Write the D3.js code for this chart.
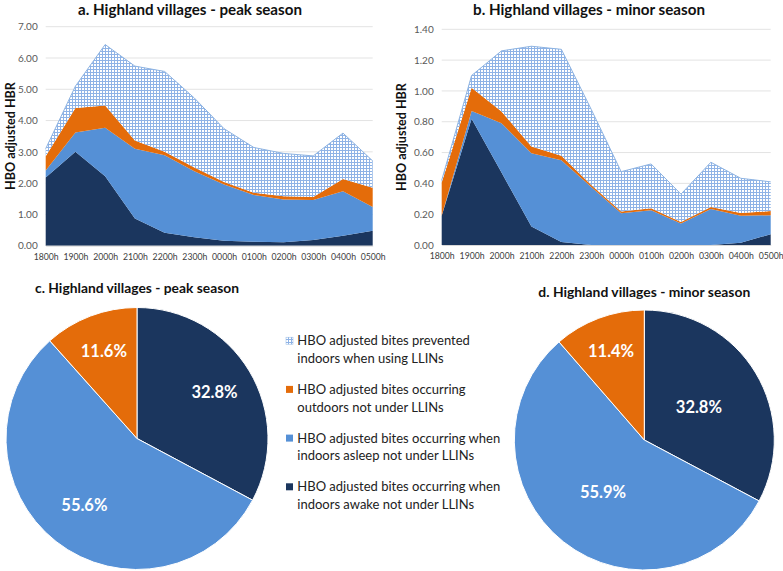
<!DOCTYPE html>
<html><head><meta charset="utf-8">
<script src="https://cdn.jsdelivr.net/npm/d3@7/dist/d3.min.js"></script>
<style>
body{margin:0;background:#fff}
svg{display:block}
text{font-family:Lato,"Open Sans",sans-serif}
</style>
</head><body>
<svg id="chart" width="783" height="571"></svg>
<script>
// ---------------- data ----------------
const hours = ["1800h","1900h","2000h","2100h","2200h","2300h","0000h","0100h","0200h","0300h","0400h","0500h"];
const seriesKeys = ["awake","asleep","outdoors","prevented"];
const seriesNames = [
  ["HBO adjusted bites prevented","indoors when using LLINs"],
  ["HBO adjusted bites occurring","outdoors not under LLINs"],
  ["HBO adjusted bites occurring when","indoors asleep not under LLINs"],
  ["HBO adjusted bites occurring when","indoors awake not under LLINs"]
];
// peak season (panel a)
const peakAwake     = [2.18,3.00,2.22,0.87,0.41,0.27,0.16,0.13,0.11,0.18,0.32,0.48];
const peakAsleep    = [0.22,0.62,1.55,2.23,2.48,2.11,1.80,1.49,1.37,1.28,1.42,0.76];
const peakOutdoors  = [0.46,0.78,0.71,0.26,0.11,0.12,0.08,0.07,0.10,0.10,0.39,0.61];
const peakPrevented = [0.24,0.70,1.95,2.38,2.57,2.22,1.70,1.45,1.37,1.31,1.47,0.86];
// minor season (panel b)
const minorAwake     = [0.19,0.82,0.47,0.12,0.02,0.00,0.00,0.00,0.00,0.00,0.015,0.07];
const minorAsleep    = [0.00,0.05,0.32,0.475,0.53,0.376,0.206,0.226,0.14,0.234,0.175,0.123];
const minorOutdoors  = [0.215,0.15,0.076,0.045,0.03,0.014,0.011,0.012,0.01,0.013,0.018,0.027];
const minorPrevented = [0.015,0.08,0.394,0.65,0.69,0.49,0.259,0.288,0.18,0.29,0.225,0.19];
const peakTicks  = [0,1,2,3,4,5,6,7];
const minorTicks = [0,0.2,0.4,0.6,0.8,1.0,1.2,1.4];
// pies (awake, asleep, outdoors) in %
const peakPie  = [32.8,55.6,11.6];
const minorPie = [32.8,55.9,11.4];

// ---------------- styles ----------------
const colors = {awake:"#1b365e", asleep:"#5590d6", outdoors:"#e46c0a", prevented:"url(#hatch)"};
const svg = d3.select("#chart");
const defs = svg.append("defs");
const pat = defs.append("pattern").attr("id","hatch").attr("patternUnits","userSpaceOnUse")
  .attr("width",3).attr("height",3);
pat.append("rect").attr("width",3).attr("height",3).attr("fill","#ffffff");
pat.append("rect").attr("x",0).attr("y",0).attr("width",3).attr("height",1).attr("fill","#8fb3e6");
pat.append("rect").attr("x",0).attr("y",0).attr("width",1).attr("height",3).attr("fill","#8fb3e6");

function fit(sel, target){
  const n = sel.node(); const fs = parseFloat(sel.attr("font-size"));
  const w = n.getComputedTextLength();
  if (w>0) sel.attr("font-size", (fs*target/w).toFixed(2));
  return sel;
}

function areaChart(o){
  const g = svg.append("g");
  const x = d3.scalePoint().domain(hours).range([o.x0,o.x1]);
  const y = d3.scaleLinear().domain([0,o.max]).range([o.yb,o.yt]);
  const rows = hours.map((h,i)=>({hour:h, awake:o.awake[i], asleep:o.asleep[i], outdoors:o.outdoors[i], prevented:o.prevented[i]}));
  const stack = d3.stack().keys(seriesKeys)(rows);
  // grid
  g.append("g").selectAll("line").data(o.ticks.slice(1)).join("line")
    .attr("x1",o.x0).attr("x2",o.x1).attr("y1",d=>y(d)).attr("y2",d=>y(d))
    .attr("stroke","#e3e3e3").attr("stroke-width",1);
  const area = d3.area().x(d=>x(d.data.hour)).y0(d=>y(d[0])).y1(d=>y(d[1]));
  g.append("g").selectAll("path").data(stack).join("path")
    .attr("d",area).attr("fill",d=>colors[d.key]);
  const top = stack[stack.length-1];
  g.append("path").attr("d", d3.line().x(d=>x(d.data.hour)).y(d=>y(d[1]))(top))
    .attr("fill","none").attr("stroke","#8db3e2").attr("stroke-width",1);
  // axes
  const ya = g.append("g").attr("transform",`translate(${o.x0},0)`)
    .call(d3.axisLeft(y).tickValues(o.ticks).tickFormat(d3.format(".2f")).tickSize(0).tickPadding(8));
  ya.select(".domain").remove();
  ya.selectAll("text").attr("font-family","Lato").attr("font-size",10).attr("fill","#595959");
  const xa = g.append("g").attr("transform",`translate(0,${o.yb})`)
    .call(d3.axisBottom(x).tickSize(0).tickPadding(8));
  xa.select(".domain").attr("stroke","#d9d9d9");
  xa.selectAll("text").attr("font-family","Lato").attr("font-size",8.7).attr("fill","#404040");
  // titles
  fit(g.append("text").attr("x",o.titleX).attr("y",15).attr("text-anchor","middle")
    .attr("font-weight","bold").attr("font-size",15).attr("fill","#111").text(o.title), o.titleW);
  fit(g.append("text").attr("transform",`translate(${o.ylabX},${o.ylabY}) rotate(-90)`)
    .attr("text-anchor","middle").attr("dy","0.35em")
    .attr("font-weight","bold").attr("font-size",13).attr("fill","#111").text("HBO adjusted HBR"), 108);
}

areaChart({x0:45.7,x1:372.7,yt:26.7,yb:245.7,max:7,ticks:peakTicks,
  awake:peakAwake,asleep:peakAsleep,outdoors:peakOutdoors,prevented:peakPrevented,
  title:"a. Highland villages - peak season",titleX:190,titleW:224,ylabX:10.5,ylabY:136});
areaChart({x0:441.7,x1:770.7,yt:29.3,yb:245,max:1.4,ticks:minorTicks,
  awake:minorAwake,asleep:minorAsleep,outdoors:minorOutdoors,prevented:minorPrevented,
  title:"b. Highland villages - minor season",titleX:589,titleW:232,ylabX:402,ylabY:137});

function pieChart(o){
  const g = svg.append("g").attr("transform",`translate(${o.cx},${o.cy})`);
  const arcs = d3.pie().sort(null).value(d=>d)(o.values);
  const keys = ["awake","asleep","outdoors"];
  g.selectAll("path").data(arcs).join("path")
    .attr("d",d3.arc().innerRadius(0).outerRadius(o.r))
    .attr("fill",(d,i)=>colors[keys[i]]).attr("stroke","#fff").attr("stroke-width",1);
  g.selectAll("text.lab").data(arcs).join("text").attr("class","lab")
    .attr("transform",(d,i)=>{const c=d3.arc().innerRadius(0).outerRadius(2*o.r*o.lr[i]).centroid(d);return `translate(${c})`;})
    .attr("text-anchor","middle").attr("dy","0.35em")
    .attr("font-weight","bold").attr("font-size",16.5).attr("fill","#fff")
    .text(d=>d.data.toFixed(1)+"%");
  fit(svg.append("text").attr("x",o.cx).attr("y",o.ty).attr("text-anchor","middle")
    .attr("font-weight","bold").attr("font-size",14).attr("fill","#111").text(o.title), o.tw);
}
pieChart({cx:137,cy:438.5,r:131,values:peakPie,lr:[0.69,0.65,0.71],
  title:"c. Highland villages - peak season",ty:293,tw:204});
pieChart({cx:644.3,cy:440,r:130,values:minorPie,lr:[0.49,0.51,0.73],
  title:"d. Highland villages - minor season",ty:297,tw:212});

// legend
const lg = svg.append("g");
const legFill = [colors.prevented, colors.outdoors, colors.asleep, colors.awake];
seriesNames.forEach((lines,i)=>{
  const y0 = 340.7 + i*48.7;
  lg.append("rect").attr("x",286).attr("y",y0-3.5).attr("width",7).attr("height",7)
    .attr("fill",legFill[i]).attr("stroke", i===0?"#8db3e2":"none").attr("stroke-width",0.5);
  lines.forEach((t,j)=>{
    lg.append("text").attr("class","legt").attr("x",297.3).attr("y",y0+j*17.6).attr("dy","0.35em")
      .attr("font-size",13).attr("fill","#222").text(t);
  });
});
// fit legend font size from first line
const first = lg.select("text.legt");
const w0 = first.node().getComputedTextLength();
lg.selectAll("text.legt").attr("font-size",(13*172.7/w0).toFixed(2));
</script>
</body></html>
